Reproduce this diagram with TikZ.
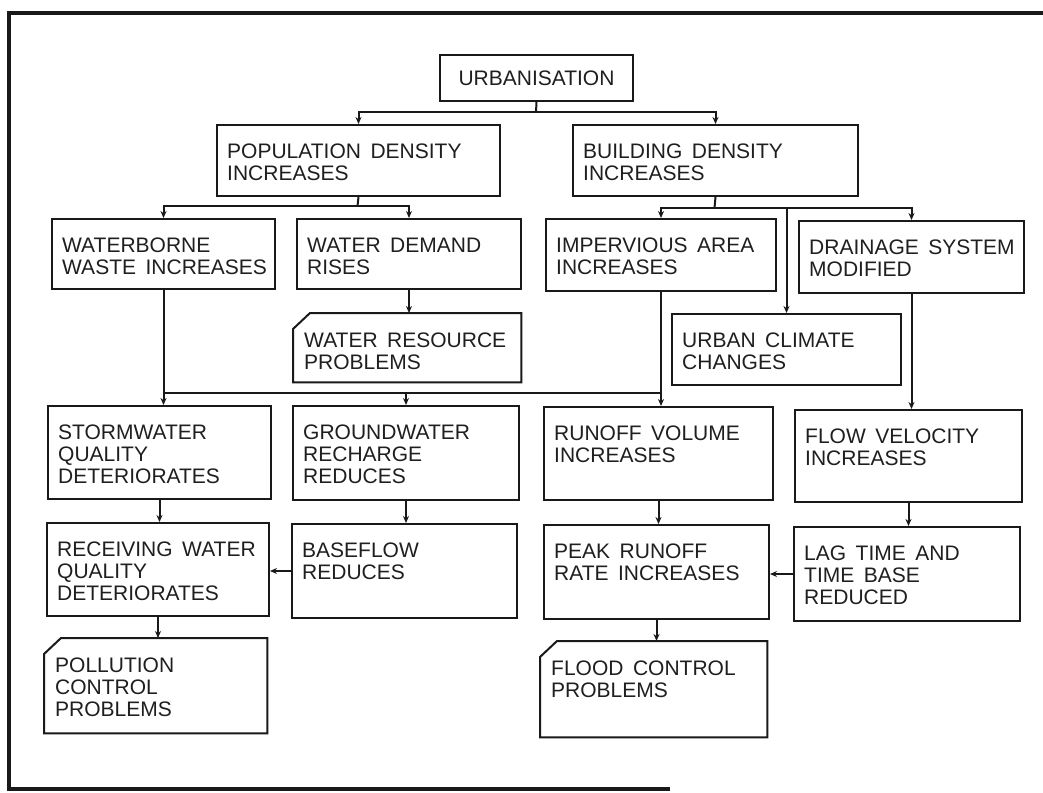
\documentclass[tikz,border=0pt]{standalone}
\usepackage{fontspec}
\setmainfont{Liberation Sans}
\usetikzlibrary{arrows.meta}

% a box: style, name, x1, y1, x2, y2, text (text set from the top-left corner)
\newcommand\blk[7][box]{%
  \node[#1, minimum width={#5-#3}, minimum height={#6-#4}] (#2) at (#3,#4) {};
  \node[lbl] (#2-txt) at ([shift={(11pt,-20pt)}]#2.north west) {#7};
}
% outline of a box with its top-left corner cut off
\newcommand\cutcorner[1]{%
  \draw[boxline] ([xshift=17pt]#1.north west) -- (#1.north east) -- (#1.south east)
    -- (#1.south west) -- ([yshift=-16pt]#1.north west) -- cycle;
}
% wider word spacing for the lettering
\newcommand\widespaces{\spaceskip=9.5pt plus 1pt\relax}

\begin{document}
\begin{tikzpicture}[x=1pt,y=-1pt,
  boxline/.style={draw=black!90, line width=2pt, line join=miter},
  box/.style={boxline, inner sep=0pt, anchor=north west},
  plainbox/.style={draw=none, inner sep=0pt, anchor=north west},
  lbl/.style={anchor=north west, inner sep=0pt, align=left, text=black!88,
    font=\fontsize{21}{22}\selectfont, execute at begin node=\widespaces},
  link/.style={draw=black!90, line width=2pt},
  arr/.style={link, -{Stealth[length=7pt,width=6pt]}},
]
\useasboundingbox (0,0) rectangle (1043,792);
\fill[white] (0,0) rectangle (1043,792);

% page frame
\draw[line width=3.5pt, black!90] (1043,13) -- (9,13) -- (9,789) -- (670,789);

% top
\node[box, minimum width=193, minimum height=46] (urb) at (439,54) {};
\node[lbl, anchor=center] (urb-txt) at (urb.center) {URBANISATION};

\blk{pop}{216}{124}{499}{195}{POPULATION DENSITY\\INCREASES}
\blk{bld}{572}{124}{857}{195}{BUILDING DENSITY\\INCREASES}

% third row
\blk{wbw}{51}{218}{274}{288}{WATERBORNE\\WASTE INCREASES}
\blk{wdr}{296}{218}{520}{288}{WATER DEMAND\\RISES}
\blk{imp}{545}{218}{775}{290}{IMPERVIOUS AREA\\INCREASES}
\blk{drn}{798}{220}{1023}{292}{DRAINAGE SYSTEM\\MODIFIED}

\blk[plainbox]{wrp}{293}{313}{521}{382}{WATER RESOURCE\\PROBLEMS}
\cutcorner{wrp}
\blk{ucc}{671}{313}{900}{384}{URBAN CLIMATE\\CHANGES}

% fourth row
\blk{swq}{47}{405}{270}{498}{STORMWATER\\QUALITY\\DETERIORATES}
\blk{grr}{292}{405}{518}{499}{GROUNDWATER\\RECHARGE\\REDUCES}
\blk{rvi}{543}{406}{772}{499}{RUNOFF VOLUME\\INCREASES}
\blk{fvi}{794}{409}{1021}{501}{FLOW VELOCITY\\INCREASES}

% fifth row
\blk{rwq}{46}{522}{268}{615}{RECEIVING WATER\\QUALITY\\DETERIORATES}
\blk{bfr}{291}{523}{516}{617}{BASEFLOW\\REDUCES}
\blk{prr}{543}{524}{768}{618}{PEAK RUNOFF\\RATE INCREASES}
\blk{ltb}{793}{526}{1019}{620}{LAG TIME AND\\TIME BASE\\REDUCED}

% problems
\blk[plainbox]{pcp}{44}{638}{267}{733}{POLLUTION\\CONTROL\\PROBLEMS}
\cutcorner{pcp}
\blk[plainbox]{fcp}{540}{641}{767}{737}{FLOOD CONTROL\\PROBLEMS}
\cutcorner{fcp}

% junction points of the branching connectors
\coordinate (j1) at (536,112);
\coordinate (j2) at (357.5,206);
\coordinate (j3) at (714.5,208);
\coordinate (j4) at (162.5,393);

% urbanisation splits
\draw[link] (urb.south) -- (j1);
\draw[arr] (j1) -| (pop.north);
\draw[arr] (j1) -| (bld.north);

% population density
\draw[link] (pop.south) -- (j2);
\draw[arr] (j2) -| (wbw.north);
\draw[arr] (j2) -| (wdr.north);
\draw[arr] (wdr.south) -- (wdr.south |- wrp.north);

% building density
\draw[link] (bld.south) -- (j3);
\draw[arr] (j3) -| (imp.north);
\draw[arr] (j3) -| (drn.north);
\draw[arr] (j3 -| ucc.north) -- (ucc.north);

% waterborne waste and impervious area
\draw[arr] (wbw.south) -- (wbw.south |- swq.north);
\draw[link] (j4) -- (j4 -| imp.south);
\draw[arr] (j4 -| grr.north) -- (grr.north);
\draw[arr] (imp.south) -- (imp.south |- rvi.north);
\draw[arr] (drn.south) -- (drn.south |- fvi.north);

% downstream effects
\draw[arr] (swq.south) -- (swq.south |- rwq.north);
\draw[arr] (grr.south) -- (grr.south |- bfr.north);
\draw[arr] (rvi.south) -- (rvi.south |- prr.north);
\draw[arr] (fvi.south) -- (fvi.south |- ltb.north);
\draw[arr] (bfr.west) -- (bfr.west -| rwq.east);
\draw[arr] (ltb.west) -- (ltb.west -| prr.east);
\draw[arr] (rwq.south) -- (rwq.south |- pcp.north);
\draw[arr] (prr.south) -- (prr.south |- fcp.north);
\end{tikzpicture}
\end{document}
